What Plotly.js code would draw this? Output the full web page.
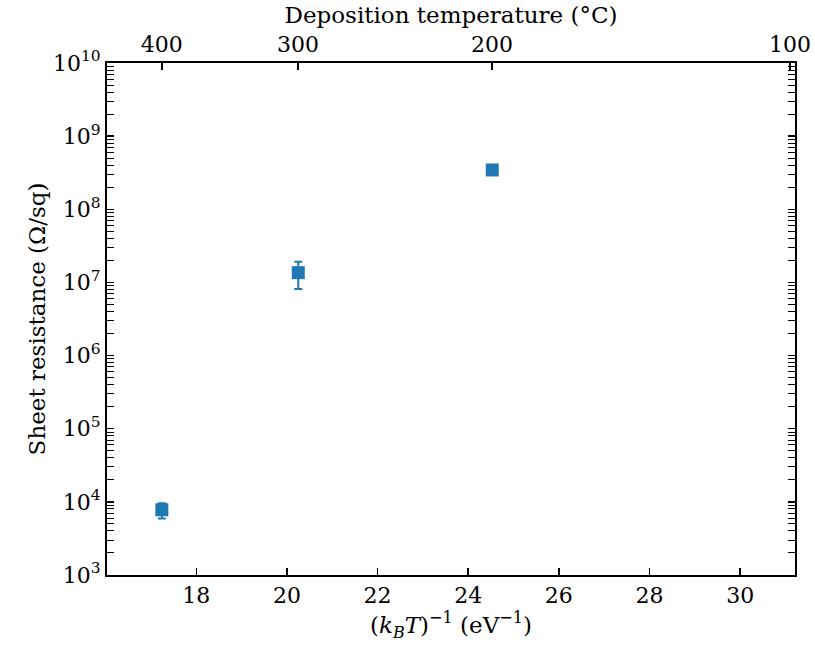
<!DOCTYPE html>
<html>
<head>
<meta charset="utf-8">
<script src="https://cdn.plot.ly/plotly-3.0.1.min.js"></script>
<style>html,body{margin:0;padding:0;background:#fff;}#plot{width:815px;height:646px;}</style>
</head>
<body>
<div id="plot"></div>
<script>
// Data
const invKT = [17.24, 20.25, 24.53];            // (k_B T)^-1, eV^-1
const sheetRes = [7800, 1.36e7, 3.45e8];        // Ohm/sq
const errPlus = [1800, 5.5e6, 1.0e7];
const errMinus = [1900, 5.5e6, 1.0e7];

// Top axis: deposition temperatures (°C)
const depTemps = [400, 300, 200, 100];
const kB = 8.617333e-5;
const depTempPos = depTemps.map(t => 1 / (kB * (t + 273.15)));
const depTempLabels = depTemps.map(t => String(t));

// Y tick labels
const yExps = [3, 4, 5, 6, 7, 8, 9, 10];
const yTickVals = yExps.map(e => Math.pow(10, e));
const yTickText = yExps.map(e => '10<sup>' + e + '</sup>');
const yMinor = [];
for (let e = 3; e < 10; e++) for (let m = 2; m <= 9; m++) yMinor.push(m * Math.pow(10, e));

const xRange = [16.03, 31.21];
const fontFam = '"DejaVu Serif", "Liberation Serif", serif';

const trace = {
  x: invKT, y: sheetRes, type: 'scatter', mode: 'markers',
  marker: {symbol: 'square', size: 13, color: '#1f77b4'},
  error_y: {type: 'data', array: errPlus, arrayminus: errMinus, visible: true,
            color: '#1f77b4', thickness: 2, width: 4},
  showlegend: false, hoverinfo: 'none'
};
const dummyTop = {x: [xRange[0]], y: [1e5], xaxis: 'x2', yaxis: 'y', mode: 'markers',
  marker: {opacity: 0}, showlegend: false, hoverinfo: 'none'};

const layout = {
  width: 815, height: 646,
  margin: {l: 107, r: 20, t: 63, b: 71},
  paper_bgcolor: '#fff', plot_bgcolor: '#fff',
  font: {family: fontFam, size: 22, color: '#000'},
  xaxis: {
    range: xRange, showgrid: false, zeroline: false,
    showline: true, linecolor: '#000', linewidth: 2,
    ticks: 'inside', ticklen: 7, tickwidth: 1.5, tickcolor: '#000',
    tickvals: [18, 20, 22, 24, 26, 28, 30],
    tickfont: {size: 22},
    title: {text: '(<i>k</i><sub><i>B</i></sub><i>T</i>)<sup>−1</sup> (eV<sup>−1</sup>)', font: {size: 23}, standoff: 4}
  },
  xaxis2: {
    overlaying: 'x', side: 'top', anchor: 'y', range: xRange,
    showgrid: false, zeroline: false,
    showline: true, linecolor: '#000', linewidth: 2,
    ticks: 'inside', ticklen: 7, tickwidth: 1.5, tickcolor: '#000',
    tickvals: depTempPos, ticktext: depTempLabels,
    tickfont: {size: 22},
    title: {text: 'Deposition temperature (°C)', font: {size: 23}, standoff: 2}
  },
  yaxis: {
    type: 'log', range: [3, 10], showgrid: false, zeroline: false,
    showline: true, linecolor: '#000', linewidth: 2, mirror: 'allticks',
    ticks: 'inside', ticklen: 7, tickwidth: 1.5, tickcolor: '#000',
    tickvals: yTickVals, ticktext: yTickText,
    tickfont: {size: 22},
    minor: {tickvals: yMinor, ticks: 'inside', ticklen: 4, tickwidth: 1, tickcolor: '#000', showgrid: false},
    title: {text: 'Sheet resistance (Ω/sq)', font: {size: 23}, standoff: 1}
  }
};

Plotly.newPlot('plot', [trace, dummyTop], layout, {displayModeBar: false, staticPlot: true});
</script>
</body>
</html>
